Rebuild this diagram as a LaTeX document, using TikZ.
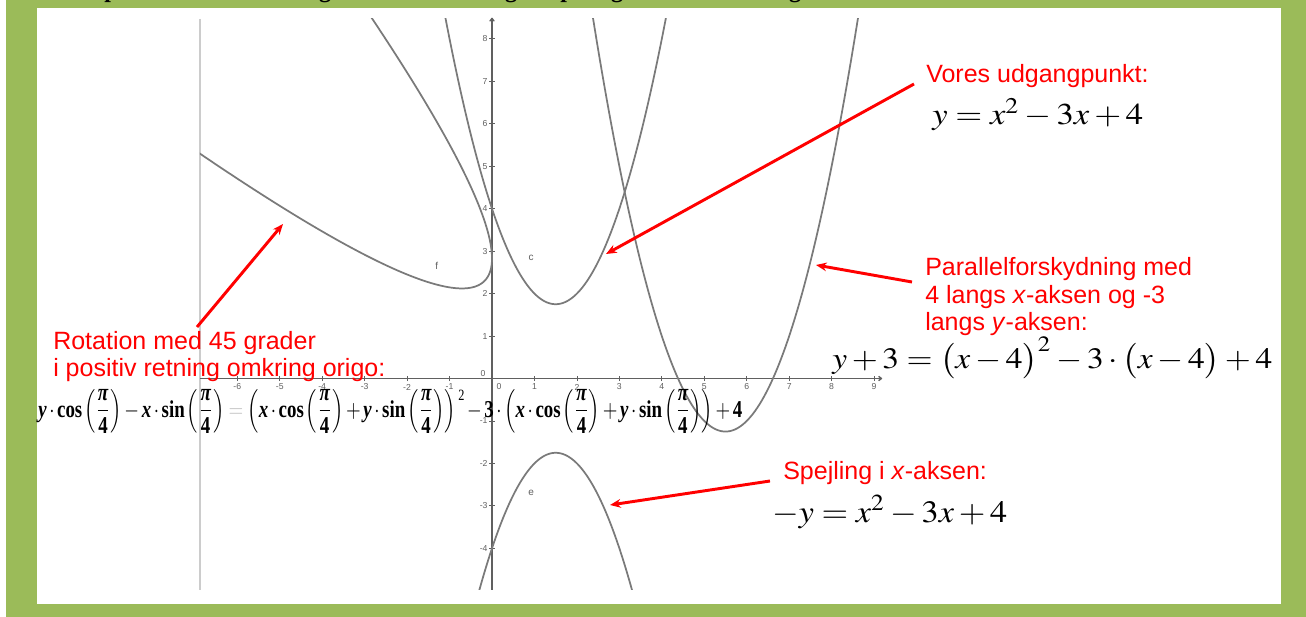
\documentclass[tikz,border=0pt]{standalone}
\usepackage[no-math]{fontspec}
\usepackage{mathptmx}
\usepackage{amsmath}
\usetikzlibrary{arrows.meta}
\newfontfamily\arial{Liberation Sans}
\newfontfamily\tnr{Liberation Serif}
\definecolor{framegreen}{HTML}{9BBB59}
\definecolor{curvegray}{HTML}{7A7A7A}
\definecolor{axisgray}{HTML}{606060}
\newcommand{\bv}[1]{\mbox{\tnr\bfseries\itshape #1}}
\newcommand{\bt}[1]{\mbox{\tnr\bfseries #1}}
\newcommand{\pq}{\displaystyle\frac{\bv{π}}{\bt{4}}}
\newcommand{\sqtwo}{\mbox{\raisebox{7pt}{\tnr\fontsize{6.5}{7}\selectfont 2}}}
\begin{document}
\begin{tikzpicture}[x=0.75pt,y=-0.75pt,
  redlbl/.style={font=\arial\fontsize{18.75}{20}\selectfont, text=red, inner sep=0pt, anchor=base west},
  redarrow/.style={draw=red, line width=2.2pt, -{Stealth[length=8pt,width=6.5pt]}},
  curve/.style={draw=curvegray, line width=1.3pt},
  axisline/.style={draw=axisgray, line width=1pt},
  tlab/.style={font=\arial\fontsize{6.5}{7}\selectfont, text=axisgray, inner sep=0pt},
  clab/.style={font=\arial\fontsize{7.5}{8}\selectfont, text=axisgray, inner sep=0pt},
  eqn/.style={inner sep=0pt, anchor=base west},
  topglyph/.style={font=\tnr\bfseries\fontsize{18}{20}\selectfont, inner sep=0pt, anchor=base}]
\useasboundingbox (0,0) rectangle (1306,617);
\fill[white] (0,0) rectangle (1306,617);
\fill[framegreen] (6,0) rectangle (1306,617);
\fill[white] (37,8) rectangle (1281,604);

% descenders of the cut-off line above
\begin{scope}
\clip (6,0) rectangle (1306,8);
\foreach \c/\xx [count=\k] in {p/111, g/325, g/511, p/567, g/617, g/795}
  \node[topglyph] (top\k) at (\xx,-2.5) {\c};
\end{scope}

% ---------- graph ----------
\begin{scope}[shift={(492,378.5)}, x=31.84pt, y=31.84pt]
  \draw[gray!40, line width=1.1pt] (-6.88,8.47) -- (-6.88,-4.98);
  \draw[axisline, -{To[length=3pt,width=4pt]}] (-6.88,0) -- (9.19,0);
  \draw[axisline, -{To[length=3pt,width=4pt]}] (0,-4.98) -- (0,8.5);
  \foreach \i [count=\k] in {-6,-5,-4,-3,-2,-1,1,2,3,4,5,6,7,8,9} {
    \draw[draw=axisgray, line width=0.6pt] (\i,-0.06) -- (\i,0.06);
    \node[tlab] (xl\k) at (\i,-0.2) {\i};
  }
  \foreach \i [count=\k] in {-4,-3,-2,-1,1,2,3,4,5,6,7,8} {
    \draw[draw=axisgray, line width=0.6pt] (-0.06,\i) -- (0.06,\i);
    \node[tlab, anchor=east] (yl\k) at (-0.1,\i) {\i};
  }
  \node[tlab] (zeroa) at (-0.21,0.11) {0};
  \node[tlab] (zerob) at (0.165,-0.2) {0};
  \begin{scope}
    \clip (-6.88,-4.98) rectangle (9.3,8.47);
    \draw[curve] plot[domain=-1.3:4.3, samples=120] (\x,{\x*\x-3*\x+4});
    \draw[curve] plot[domain=2.2:8.8, samples=120] (\x,{(\x-4)*(\x-4)-3*(\x-4)+1});
    \draw[curve] plot[domain=-0.5:3.5, samples=120] (\x,{-1*(\x*\x-3*\x+4)});
    \draw[curve] plot[domain=-1.3:4.1, samples=260] ({-1*(\x-2)*(\x-2)/sqrt(2)},{(\x*\x-2*\x+4)/sqrt(2)});
  \end{scope}
  \node[clab] (lf) at (-1.30,2.65) {f};
  \node[clab] (lc) at (0.92,2.84) {c};
  \node[clab] (le) at (0.92,-2.70) {e};
\end{scope}

% ---------- red labels ----------
\node[redlbl] (vores) at (926,83) {Vores udgangpunkt:};
\node[redlbl] (par1) at (925,275) {Parallelforskydning med};
\node[redlbl] (par2) at (925,303) {4 langs \textit{x}-aksen og -3};
\node[redlbl] (par3) at (925,330) {langs \textit{y}-aksen:};
\node[redlbl] (spe) at (783,479) {Spejling i \textit{x}-aksen:};
\node[redlbl] (rot1) at (53,349) {Rotation med 45 grader};
\node[redlbl] (rot2) at (53,376) {i positiv retning omkring origo:};

% ---------- equations ----------
\node[eqn] (eq1) at (932,124) {\resizebox{158.25pt}{19.5pt}{$y = x^{2} - 3x + 4$}};
\node[eqn] (eq2) at (832,368) {\resizebox{330pt}{23.5pt}{$y + 3 = \bigl(x - 4\bigr)^{2} - 3\cdot\bigl(x - 4\bigr) + 4$}};
\node[eqn] (eq3) at (772,522) {\resizebox{176.25pt}{20pt}{$-y = x^{2} - 3x + 4$}};
\node[eqn] (eqr) at (38,417) {\scalebox{1}[1.28]{\resizebox{528pt}{!}{$\displaystyle \bv{y}\cdot\bt{cos}\left(\pq\right)-\bv{x}\cdot\bt{sin}\left(\pq\right)\mathrel{\color{black!22}=}\left(\bv{x}\cdot\bt{cos}\left(\pq\right)+\bv{y}\cdot\bt{sin}\left(\pq\right)\right)\sqtwo-\bt{3}\cdot\left(\bv{x}\cdot\bt{cos}\left(\pq\right)+\bv{y}\cdot\bt{sin}\left(\pq\right)\right)+\bt{4}$}}};

% ---------- red arrows ----------
\coordinate (a1s) at (197,327); \coordinate (a1e) at (283,224);
\coordinate (a2s) at (914,84);  \coordinate (a2e) at (606,254);
\coordinate (a3s) at (912,282); \coordinate (a3e) at (816,265);
\coordinate (a4s) at (770,481); \coordinate (a4e) at (610,505);
\draw[redarrow] (a1s) -- (a1e);
\draw[redarrow] (a2s) -- (a2e);
\draw[redarrow] (a3s) -- (a3e);
\draw[redarrow] (a4s) -- (a4e);
\end{tikzpicture}
\end{document}
